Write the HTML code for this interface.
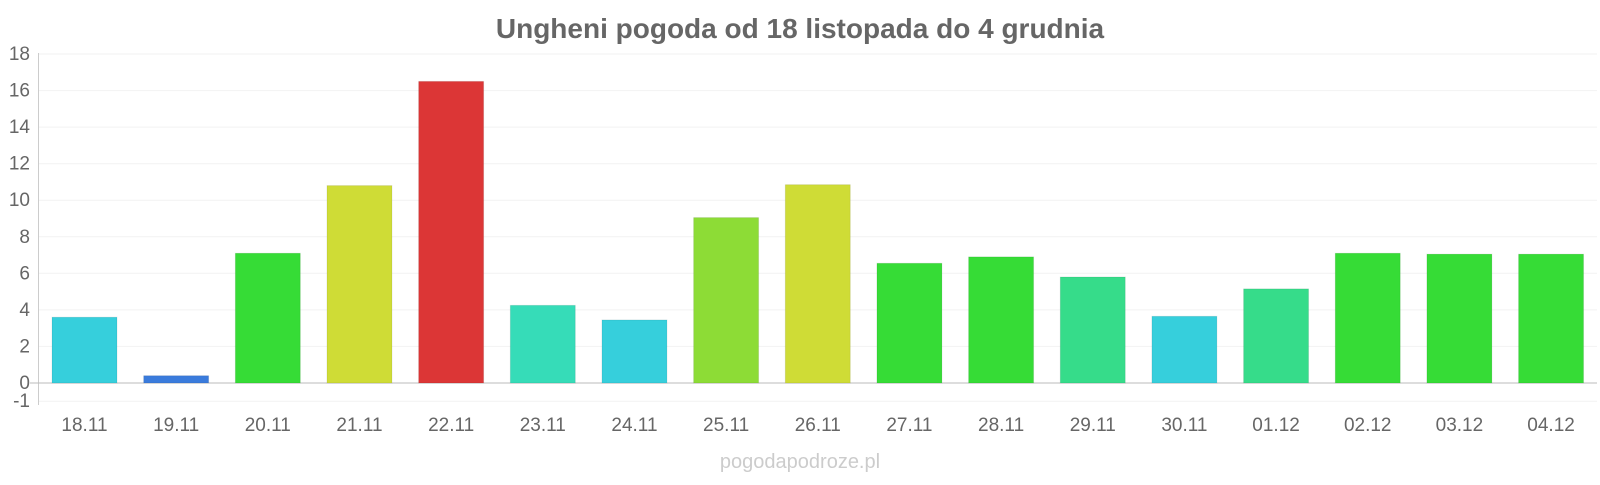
<!DOCTYPE html>
<html><head><meta charset="utf-8"><style>
body{margin:0;background:#fff;}
svg text{font-family:"Liberation Sans",sans-serif;}
</style></head><body>
<svg width="1600" height="480" xmlns="http://www.w3.org/2000/svg">
<text x="800" y="38" text-anchor="middle" font-size="28" font-weight="bold" fill="#666">Ungheni pogoda od 18 listopada do 4 grudnia</text>
<g stroke="#f2f2f2" stroke-width="1">
<line x1="39" x2="1597" y1="54" y2="54"/><line x1="39" x2="1597" y1="90.6" y2="90.6"/>
<line x1="39" x2="1597" y1="127.1" y2="127.1"/><line x1="39" x2="1597" y1="163.7" y2="163.7"/>
<line x1="39" x2="1597" y1="200.2" y2="200.2"/><line x1="39" x2="1597" y1="236.8" y2="236.8"/>
<line x1="39" x2="1597" y1="273.3" y2="273.3"/><line x1="39" x2="1597" y1="309.9" y2="309.9"/>
<line x1="39" x2="1597" y1="346.4" y2="346.4"/><line x1="39" x2="1597" y1="401.3" y2="401.3"/>
</g>
<line x1="38.5" x2="38.5" y1="53" y2="405" stroke="#ccc"/>
<line x1="30" x2="1597" y1="383" y2="383" stroke="#bbb"/>
<g font-size="19" fill="#666" text-anchor="end">
<text x="30" y="60">18</text><text x="30" y="96.6">16</text><text x="30" y="133.1">14</text>
<text x="30" y="169.7">12</text><text x="30" y="206.2">10</text><text x="30" y="242.8">8</text>
<text x="30" y="279.3">6</text><text x="30" y="315.9">4</text><text x="30" y="352.4">2</text>
<text x="30" y="389">0</text><text x="30" y="407">-1</text>
</g>
<g id="bars"></g>
<g id="labels" font-size="19" fill="#666" text-anchor="middle"></g>
<text x="800" y="468" text-anchor="middle" font-size="20" fill="#ccc">pogodapodroze.pl</text>
<script>
var d=[["18.11",3.6,"#36cfdc"],["19.11",0.4,"#3a7bdc"],["20.11",7.1,"#36dc36"],["21.11",10.8,"#cfdc36"],["22.11",16.5,"#dc3636"],["23.11",4.25,"#36dcb8"],["24.11",3.45,"#36cfdc"],["25.11",9.05,"#8ddc36"],["26.11",10.85,"#cfdc36"],["27.11",6.55,"#36dc36"],["28.11",6.9,"#36dc36"],["29.11",5.8,"#36dc8a"],["30.11",3.65,"#36cfdc"],["01.12",5.15,"#36dc8a"],["02.12",7.1,"#36dc36"],["03.12",7.05,"#36dc36"],["04.12",7.05,"#36dc36"]];
var b=document.getElementById("bars"),l=document.getElementById("labels"),ns="http://www.w3.org/2000/svg";
d.forEach(function(e,i){var c=84.5+i*91.66,h=e[1]*18.28;
var r=document.createElementNS(ns,"rect");r.setAttribute("x",c-32.5);r.setAttribute("y",383-h);r.setAttribute("width",65);r.setAttribute("height",h);r.setAttribute("fill",e[2]);r.setAttribute("stroke","rgba(0,0,0,0.08)");b.appendChild(r);
var t=document.createElementNS(ns,"text");t.setAttribute("x",c);t.setAttribute("y",431);t.textContent=e[0];l.appendChild(t);});
</script>
</svg>
</body></html>
